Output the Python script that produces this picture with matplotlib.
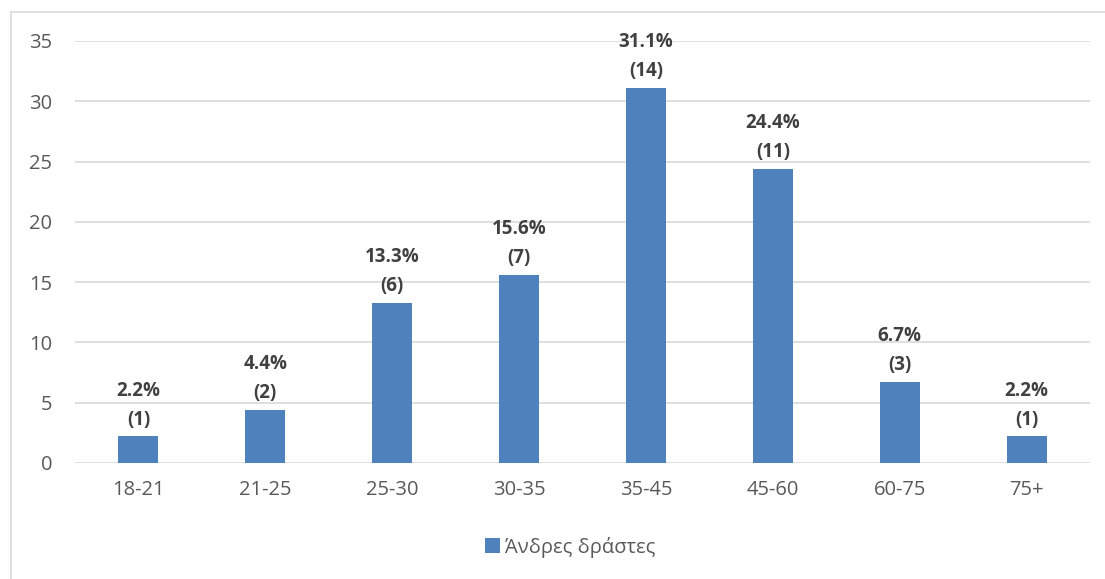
import matplotlib
matplotlib.use("Agg")
import matplotlib.pyplot as plt
from matplotlib.patches import Patch
from matplotlib.lines import Line2D

categories = ["18-21", "21-25", "25-30", "30-35", "35-45", "45-60", "60-75", "75+"]
percent = [2.2, 4.4, 13.3, 15.6, 31.1, 24.4, 6.7, 2.2]
counts = [1, 2, 6, 7, 14, 11, 3, 1]
yticks = [0, 5, 10, 15, 20, 25, 30, 35]
series_name = "Άνδρες δράστες"

bar_color = "#4F81BD"
plt.rcParams['font.family'] = ['Open Sans', 'DejaVu Sans']

W, H = 1105, 579
fig = plt.figure(figsize=(W / 100, H / 100), dpi=100)
ax = fig.add_axes([75 / W, 1 - 463 / H, (1090 - 75) / W, (463 - 41) / H])

x = list(range(len(categories)))
ax.bar(x, percent, width=0.315, color=bar_color, zorder=3)
ax.set_xlim(-0.5, len(categories) - 0.5)
ax.set_ylim(0, 35)
ax.set_yticks(yticks)
ax.set_xticks(x)
ax.set_xticklabels(categories)
ax.grid(axis='y', color='#D9D9D9', linewidth=1.2, zorder=0)
for s in ax.spines.values():
    s.set_visible(False)
ax.tick_params(axis='both', length=0, labelsize=14.5, labelcolor='#595959')
ax.tick_params(axis='y', pad=16.5)
ax.tick_params(axis='x', pad=12.5)

for xi, p, c in zip(x, percent, counts):
    ax.annotate(f"{p}%\n({c})", (xi, p), xytext=(0, 5), textcoords='offset points',
                ha='center', va='bottom', fontsize=13.5, fontweight='bold',
                color='#404040', linespacing=1.6, zorder=4)

# chart border (left and top)
fig.add_artist(Line2D([11 / W, 11 / W], [0, 1 - 12 / H], color='#D9D9D9', linewidth=1.2,
                      transform=fig.transFigure))
fig.add_artist(Line2D([11 / W, 1], [1 - 12 / H, 1 - 12 / H], color='#D9D9D9', linewidth=1.2,
                      transform=fig.transFigure))

handle = Patch(facecolor=bar_color, edgecolor='none')
fig.legend([handle], [series_name], loc='center', bbox_to_anchor=(570 / W, 1 - 547 / H),
           frameon=False, fontsize=14.5, labelcolor='#595959', handlelength=0.75,
           handleheight=0.75, handletextpad=0.25)

fig.savefig("out.png", dpi=100, facecolor='white')
